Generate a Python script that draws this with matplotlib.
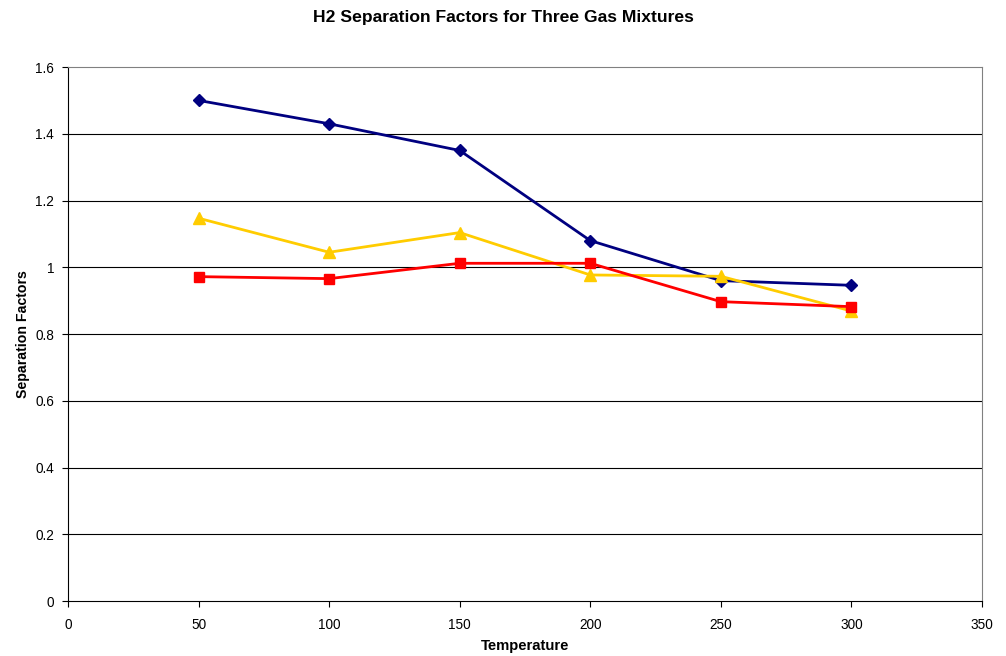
import matplotlib
matplotlib.use("Agg")
import matplotlib.pyplot as plt

plt.rcParams['font.family'] = ['Liberation Sans', 'DejaVu Sans']

# datos
temperatura = [50, 100, 150, 200, 250, 300]
serie_azul = [1.50, 1.43, 1.35, 1.08, 0.96, 0.946]
serie_roja = [0.972, 0.966, 1.012, 1.012, 0.897, 0.882]
serie_amarilla = [1.147, 1.045, 1.104, 0.977, 0.973, 0.869]

fig = plt.figure(figsize=(10.06, 6.56), dpi=100)
ax = fig.add_axes([0.0676, 0.0838, 0.9085, 0.8140])

# lineas de grilla horizontales
for yv in [0.2, 0.4, 0.6, 0.8, 1.0, 1.2, 1.4]:
    ax.axhline(yv, color='black', lw=0.8, zorder=1)

ax.plot(temperatura, serie_azul, color='#000080', lw=2, marker='D', ms=6.5, zorder=3)
ax.plot(temperatura, serie_roja, color='#FF0000', lw=2, marker='s', ms=7.5, zorder=4)
ax.plot(temperatura, serie_amarilla, color='#FFCC00', lw=2, marker='^', ms=8, zorder=3)

ax.set_xlim(0, 350)
ax.set_ylim(0, 1.6)
ax.set_xticks(range(0, 351, 50))
ax.set_yticks([0, 0.2, 0.4, 0.6, 0.8, 1.0, 1.2, 1.4, 1.6])
ax.set_yticklabels(['0', '0.2', '0.4', '0.6', '0.8', '1', '1.2', '1.4', '1.6'])
ax.tick_params(direction='out', length=4, width=0.8, labelsize=9.8, colors='black')
ax.tick_params(axis='x', pad=8)
ax.tick_params(axis='y', pad=6)

ax.spines['left'].set_color('black')
ax.spines['bottom'].set_color('black')
ax.spines['top'].set_color('#808080')
ax.spines['right'].set_color('#808080')
for s in ax.spines.values():
    s.set_linewidth(0.8)

ax.set_xlabel('Temperature', fontsize=10.7, fontweight='bold', labelpad=5)
ax.set_ylabel('Separation Factors', fontsize=10.2, fontweight='bold', labelpad=4)
fig.suptitle('H2 Separation Factors for Three Gas Mixtures', fontsize=12.6, fontweight='bold', y=0.985)

fig.savefig('out.png', dpi=100)
